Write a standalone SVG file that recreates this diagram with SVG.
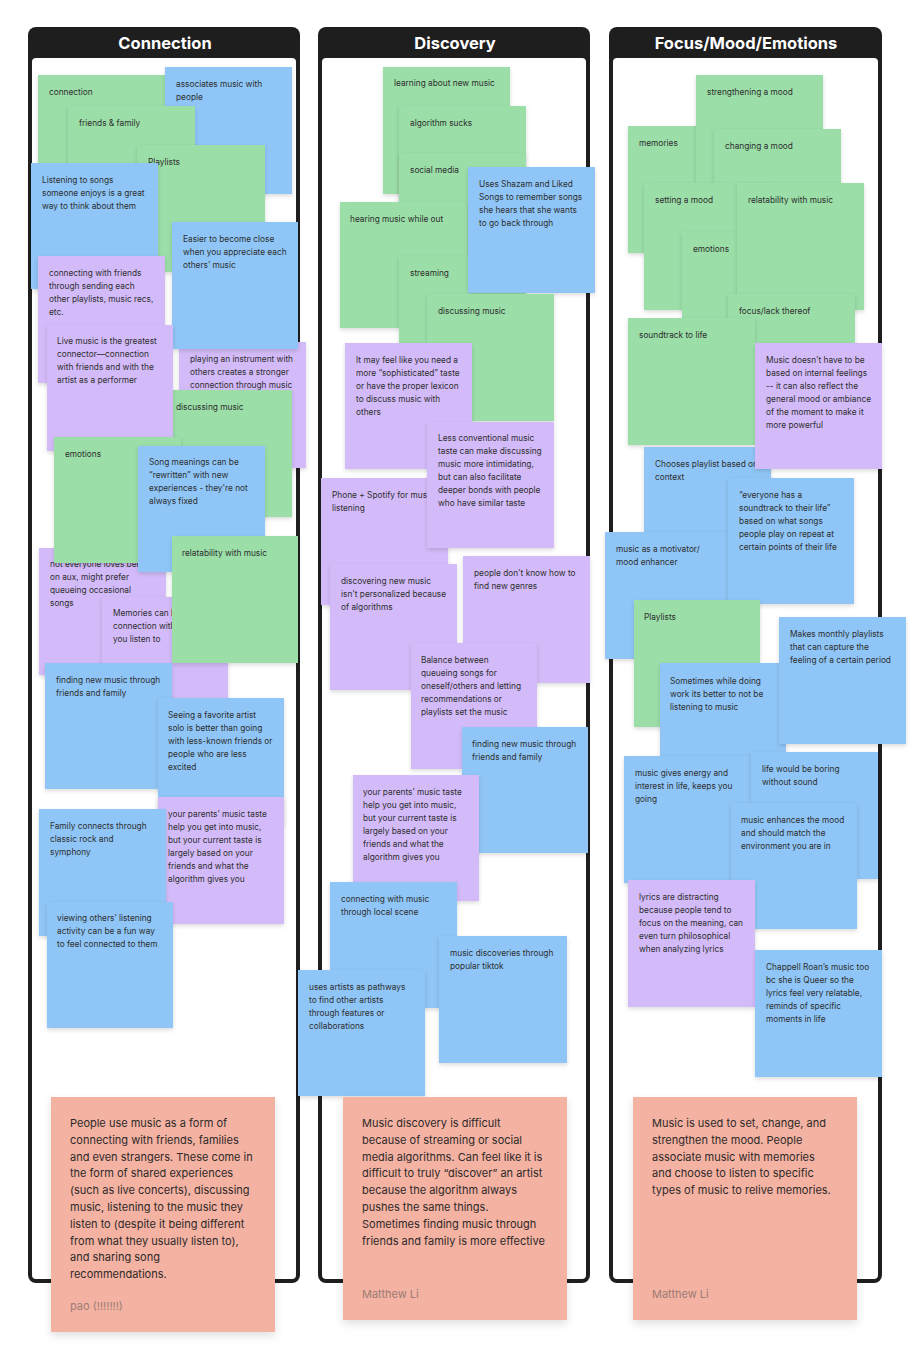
<svg xmlns="http://www.w3.org/2000/svg" width="924" height="1346" viewBox="0 0 924 1346">
<defs>
<filter id="sh" x="-10%" y="-10%" width="130%" height="130%"><feDropShadow dx="0" dy="2" stdDeviation="2" flood-color="#000" flood-opacity="0.14"/></filter>
<filter id="sh2" x="-10%" y="-10%" width="130%" height="130%"><feDropShadow dx="0" dy="4" stdDeviation="4" flood-color="#000" flood-opacity="0.12"/></filter>
</defs>
<style>
.fo{fill:#1e1e1e}
.fi{fill:#ffffff}
.hd{font-family:Inter,'Noto Sans','Liberation Sans',sans-serif;font-weight:700;font-size:16.5px;fill:#ffffff;text-anchor:middle}
.n{filter:url(#sh)}
.g{fill:#9BDEA8}
.b{fill:#8FC6F7}
.p{fill:#D3BBF9}
.s{fill:#F4B2A3;filter:url(#sh2)}
.t{font-family:Inter,'Noto Sans','Liberation Sans',sans-serif;font-size:8.3px;fill:#2e2e2e}
.st{font-family:Inter,'Noto Sans','Liberation Sans',sans-serif;font-size:11px;fill:#2e2a29}
.au{font-family:Inter,'Noto Sans','Liberation Sans',sans-serif;font-size:11px;fill:#9c7c74}
</style>
<rect width="924" height="1346" fill="#ffffff"/>
<g id="frames">
<g id="frame-connection"><rect class="fo" x="28" y="27" width="272" height="1256" rx="8"/><rect class="fi" x="32" y="58" width="264" height="1221" rx="4"/><text class="hd" x="165" y="49">Connection</text></g>
<g id="frame-discovery"><rect class="fo" x="318" y="27" width="272" height="1256" rx="8"/><rect class="fi" x="322" y="58" width="264" height="1221" rx="4"/><text class="hd" x="455" y="49">Discovery</text></g>
<g id="frame-focus"><rect class="fo" x="609" y="27" width="273" height="1256" rx="8"/><rect class="fi" x="613" y="58" width="265" height="1221" rx="4"/><text class="hd" x="746" y="49">Focus/Mood/Emotions</text></g>
</g>
<g id="connectors"/>
<g id="connection-notes">
<g id="c-connection" transform="translate(38,75)"><rect class="n g" width="127" height="127"/><text class="t" x="11" y="20">connection</text></g>
<g id="c-associates" transform="translate(165,67)"><rect class="n b" width="127" height="127"/><text class="t" x="11" y="20"><tspan x="11">associates music with</tspan><tspan x="11" dy="13">people</tspan></text></g>
<g id="c-friends" transform="translate(68,106)"><rect class="n g" width="127" height="127"/><text class="t" x="11" y="20">friends &amp; family</text></g>
<g id="c-playlists" transform="translate(137,145)"><rect class="n g" width="128" height="127"/><text class="t" x="11" y="20">Playlists</text></g>
<g id="c-listening" transform="translate(31,163)"><rect class="n b" width="127" height="126"/><text class="t" x="11" y="20"><tspan x="11">Listening to songs</tspan><tspan x="11" dy="13">someone enjoys is a great</tspan><tspan x="11" dy="13">way to think about them</tspan></text></g>
<g id="c-connecting" transform="translate(38,256)"><rect class="n p" width="127" height="127"/><text class="t" x="11" y="20"><tspan x="11">connecting with friends</tspan><tspan x="11" dy="13">through sending each</tspan><tspan x="11" dy="13">other playlists, music recs,</tspan><tspan x="11" dy="13">etc.</tspan></text></g>
<g id="c-playing" transform="translate(179,342)"><rect class="n p" width="127" height="126"/><text class="t" x="11" y="20"><tspan x="11">playing an instrument with</tspan><tspan x="11" dy="13">others creates a stronger</tspan><tspan x="11" dy="13">connection through music</tspan></text></g>
<g id="c-easier" transform="translate(172,222)"><rect class="n b" width="126" height="127"/><text class="t" x="11" y="20"><tspan x="11">Easier to become close</tspan><tspan x="11" dy="13">when you appreciate each</tspan><tspan x="11" dy="13">others’ music</tspan></text></g>
<g id="c-discussing" transform="translate(165,390)"><rect class="n g" width="127" height="127"/><text class="t" x="11" y="20">discussing music</text></g>
<g id="c-live" transform="translate(47,325)"><rect class="n p" width="126" height="126"/><text class="t" x="10" y="19"><tspan x="10">Live music is the greatest</tspan><tspan x="10" dy="13">connector—connection</tspan><tspan x="10" dy="13">with friends and with the</tspan><tspan x="10" dy="13">artist as a performer</tspan></text></g>
<g id="c-noteveryone" transform="translate(39,548)"><rect class="n p" width="127" height="127"/><text class="t" x="11" y="19"><tspan x="11">not everyone loves being</tspan><tspan x="11" dy="13">on aux, might prefer</tspan><tspan x="11" dy="13">queueing occasional</tspan><tspan x="11" dy="13">songs</tspan></text></g>
<g id="c-emotions" transform="translate(54,437)"><rect class="n g" width="127" height="126"/><text class="t" x="11" y="20">emotions</text></g>
<g id="c-song" transform="translate(138,446)"><rect class="n b" width="127" height="126"/><text class="t" x="11" y="19"><tspan x="11">Song meanings can be</tspan><tspan x="11" dy="13">“rewritten” with new</tspan><tspan x="11" dy="13">experiences - they're not</tspan><tspan x="11" dy="13">always fixed</tspan></text></g>
<g id="c-memories" transform="translate(102,597)"><rect class="n p" width="126" height="127"/><text class="t" x="11" y="19"><tspan x="11">Memories can bring</tspan><tspan x="11" dy="13">connection with who</tspan><tspan x="11" dy="13">you listen to</tspan></text></g>
<g id="c-relatability" transform="translate(172,536)"><rect class="n g" width="126" height="127"/><text class="t" x="10" y="20">relatability with music</text></g>
<g id="c-finding" transform="translate(45,663)"><rect class="n b" width="127" height="126"/><text class="t" x="11" y="20"><tspan x="11">finding new music through</tspan><tspan x="11" dy="13">friends and family</tspan></text></g>
<g id="c-seeing" transform="translate(158,698)"><rect class="n b" width="126" height="127"/><text class="t" x="10" y="20"><tspan x="10">Seeing a favorite artist</tspan><tspan x="10" dy="13">solo is better than going</tspan><tspan x="10" dy="13">with less-known friends or</tspan><tspan x="10" dy="13">people who are less</tspan><tspan x="10" dy="13">excited</tspan></text></g>
<g id="c-parents" transform="translate(158,797)"><rect class="n p" width="126" height="127"/><text class="t" x="10" y="20"><tspan x="10">your parents’ music taste</tspan><tspan x="10" dy="13">help you get into music,</tspan><tspan x="10" dy="13">but your current taste is</tspan><tspan x="10" dy="13">largely based on your</tspan><tspan x="10" dy="13">friends and what the</tspan><tspan x="10" dy="13">algorithm gives you</tspan></text></g>
<g id="c-family" transform="translate(39,809)"><rect class="n b" width="127" height="127"/><text class="t" x="11" y="20"><tspan x="11">Family connects through</tspan><tspan x="11" dy="13">classic rock and</tspan><tspan x="11" dy="13">symphony</tspan></text></g>
<g id="c-viewing" transform="translate(47,902)"><rect class="n b" width="126" height="126"/><text class="t" x="10" y="19"><tspan x="10">viewing others’ listening</tspan><tspan x="10" dy="13">activity can be a fun way</tspan><tspan x="10" dy="13">to feel connected to them</tspan></text></g>
</g>
<g id="discovery-notes">
<g id="d-learning" transform="translate(383,67)"><rect class="n g" width="127" height="127"/><text class="t" x="11" y="19">learning about new music</text></g>
<g id="d-algorithm" transform="translate(399,106)"><rect class="n g" width="127" height="127"/><text class="t" x="11" y="20">algorithm sucks</text></g>
<g id="d-social" transform="translate(399,153)"><rect class="n g" width="127" height="127"/><text class="t" x="11" y="20">social media</text></g>
<g id="d-hearing" transform="translate(340,202)"><rect class="n g" width="127" height="126"/><text class="t" x="10" y="20">hearing music while out</text></g>
<g id="d-streaming" transform="translate(399,256)"><rect class="n g" width="127" height="127"/><text class="t" x="11" y="20">streaming</text></g>
<g id="d-shazam" transform="translate(468,167)"><rect class="n b" width="127" height="126"/><text class="t" x="11" y="20"><tspan x="11">Uses Shazam and Liked</tspan><tspan x="11" dy="13">Songs to remember songs</tspan><tspan x="11" dy="13">she hears that she wants</tspan><tspan x="11" dy="13">to go back through</tspan></text></g>
<g id="d-discussing" transform="translate(427,294)"><rect class="n g" width="127" height="127"/><text class="t" x="11" y="20">discussing music</text></g>
<g id="d-itmay" transform="translate(345,343)"><rect class="n p" width="127" height="126"/><text class="t" x="11" y="20"><tspan x="11">It may feel like you need a</tspan><tspan x="11" dy="13">more “sophisticated” taste</tspan><tspan x="11" dy="13">or have the proper lexicon</tspan><tspan x="11" dy="13">to discuss music with</tspan><tspan x="11" dy="13">others</tspan></text></g>
<g id="d-phone" transform="translate(321,478)"><rect class="n p" width="127" height="127"/><text class="t" x="11" y="20"><tspan x="11">Phone + Spotify for music</tspan><tspan x="11" dy="13">listening</tspan></text></g>
<g id="d-less" transform="translate(427,422)"><rect class="n p" width="127" height="126"/><text class="t" x="11" y="19"><tspan x="11">Less conventional music</tspan><tspan x="11" dy="13">taste can make discussing</tspan><tspan x="11" dy="13">music more intimidating,</tspan><tspan x="11" dy="13">but can also facilitate</tspan><tspan x="11" dy="13">deeper bonds with people</tspan><tspan x="11" dy="13">who have similar taste</tspan></text></g>
<g id="d-discovering" transform="translate(330,564)"><rect class="n p" width="127" height="126"/><text class="t" x="11" y="20"><tspan x="11">discovering new music</tspan><tspan x="11" dy="13">isn't personalized because</tspan><tspan x="11" dy="13">of algorithms</tspan></text></g>
<g id="d-people" transform="translate(463,556)"><rect class="n p" width="127" height="127"/><text class="t" x="11" y="20"><tspan x="11">people don't know how to</tspan><tspan x="11" dy="13">find new genres</tspan></text></g>
<g id="d-balance" transform="translate(411,643)"><rect class="n p" width="126" height="126"/><text class="t" x="10" y="20"><tspan x="10">Balance between</tspan><tspan x="10" dy="13">queueing songs for</tspan><tspan x="10" dy="13">oneself/others and letting</tspan><tspan x="10" dy="13">recommendations or</tspan><tspan x="10" dy="13">playlists set the music</tspan></text></g>
<g id="d-finding" transform="translate(462,727)"><rect class="n b" width="126" height="126"/><text class="t" x="10" y="20"><tspan x="10">finding new music through</tspan><tspan x="10" dy="13">friends and family</tspan></text></g>
<g id="d-parents" transform="translate(353,775)"><rect class="n p" width="126" height="126"/><text class="t" x="10" y="20"><tspan x="10">your parents’ music taste</tspan><tspan x="10" dy="13">help you get into music,</tspan><tspan x="10" dy="13">but your current taste is</tspan><tspan x="10" dy="13">largely based on your</tspan><tspan x="10" dy="13">friends and what the</tspan><tspan x="10" dy="13">algorithm gives you</tspan></text></g>
<g id="d-local" transform="translate(330,882)"><rect class="n b" width="127" height="126"/><text class="t" x="11" y="20"><tspan x="11">connecting with music</tspan><tspan x="11" dy="13">through local scene</tspan></text></g>
<g id="d-tiktok" transform="translate(439,936)"><rect class="n b" width="128" height="127"/><text class="t" x="11" y="20"><tspan x="11">music discoveries through</tspan><tspan x="11" dy="13">popular tiktok</tspan></text></g>
<g id="d-uses" transform="translate(298,970)"><rect class="n b" width="127" height="126"/><text class="t" x="11" y="20"><tspan x="11">uses artists as pathways</tspan><tspan x="11" dy="13">to find other artists</tspan><tspan x="11" dy="13">through features or</tspan><tspan x="11" dy="13">collaborations</tspan></text></g>
</g>
<g id="focus-notes">
<g id="f-memories" transform="translate(628,126)"><rect class="n g" width="127" height="127"/><text class="t" x="11" y="20">memories</text></g>
<g id="f-strengthening" transform="translate(696,75)"><rect class="n g" width="127" height="127"/><text class="t" x="11" y="20">strengthening a mood</text></g>
<g id="f-changing" transform="translate(714,129)"><rect class="n g" width="127" height="127"/><text class="t" x="11" y="20">changing a mood</text></g>
<g id="f-setting" transform="translate(644,183)"><rect class="n g" width="127" height="127"/><text class="t" x="11" y="20">setting a mood</text></g>
<g id="f-emotions" transform="translate(682,232)"><rect class="n g" width="127" height="127"/><text class="t" x="11" y="20">emotions</text></g>
<g id="f-relatability" transform="translate(737,183)"><rect class="n g" width="127" height="127"/><text class="t" x="11" y="20">relatability with music</text></g>
<g id="f-focus" transform="translate(728,294)"><rect class="n g" width="127" height="127"/><text class="t" x="11" y="20">focus/lack thereof</text></g>
<g id="f-soundtrack" transform="translate(628,318)"><rect class="n g" width="127" height="127"/><text class="t" x="11" y="20">soundtrack to life</text></g>
<g id="f-chooses" transform="translate(644,447)"><rect class="n b" width="127" height="127"/><text class="t" x="11" y="20"><tspan x="11">Chooses playlist based on</tspan><tspan x="11" dy="13">context</tspan></text></g>
<g id="f-doesnt" transform="translate(755,343)"><rect class="n p" width="127" height="126"/><text class="t" x="11" y="20"><tspan x="11">Music doesn't have to be</tspan><tspan x="11" dy="13">based on internal feelings</tspan><tspan x="11" dy="13">-- it can also reflect the</tspan><tspan x="11" dy="13">general mood or ambiance</tspan><tspan x="11" dy="13">of the moment to make it</tspan><tspan x="11" dy="13">more powerful</tspan></text></g>
<g id="f-motivator" transform="translate(605,532)"><rect class="n b" width="127" height="127"/><text class="t" x="11" y="20"><tspan x="11">music as a motivator/</tspan><tspan x="11" dy="13">mood enhancer</tspan></text></g>
<g id="f-everyone" transform="translate(728,478)"><rect class="n b" width="126" height="126"/><text class="t" x="11" y="20"><tspan x="11">“everyone has a</tspan><tspan x="11" dy="13">soundtrack to their life”</tspan><tspan x="11" dy="13">based on what songs</tspan><tspan x="11" dy="13">people play on repeat at</tspan><tspan x="11" dy="13">certain points of their life</tspan></text></g>
<g id="f-playlists" transform="translate(634,600)"><rect class="n g" width="126" height="127"/><text class="t" x="10" y="20">Playlists</text></g>
<g id="f-sometimes" transform="translate(660,663)"><rect class="n b" width="126" height="127"/><text class="t" x="10" y="21"><tspan x="10">Sometimes while doing</tspan><tspan x="10" dy="13">work its better to not be</tspan><tspan x="10" dy="13">listening to music</tspan></text></g>
<g id="f-makes" transform="translate(779,617)"><rect class="n b" width="127" height="127"/><text class="t" x="11" y="20"><tspan x="11">Makes monthly playlists</tspan><tspan x="11" dy="13">that can capture the</tspan><tspan x="11" dy="13">feeling of a certain period</tspan></text></g>
<g id="f-energy" transform="translate(624,756)"><rect class="n b" width="127" height="127"/><text class="t" x="11" y="20"><tspan x="11">music gives energy and</tspan><tspan x="11" dy="13">interest in life, keeps you</tspan><tspan x="11" dy="13">going</tspan></text></g>
<g id="f-life" transform="translate(751,752)"><rect class="n b" width="127" height="127"/><text class="t" x="11" y="20"><tspan x="11">life would be boring</tspan><tspan x="11" dy="13">without sound</tspan></text></g>
<g id="f-enhances" transform="translate(731,803)"><rect class="n b" width="126" height="126"/><text class="t" x="10" y="20"><tspan x="10">music enhances the mood</tspan><tspan x="10" dy="13">and should match the</tspan><tspan x="10" dy="13">environment you are in</tspan></text></g>
<g id="f-lyrics" transform="translate(628,880)"><rect class="n p" width="127" height="127"/><text class="t" x="11" y="20"><tspan x="11">lyrics are distracting</tspan><tspan x="11" dy="13">because people tend to</tspan><tspan x="11" dy="13">focus on the meaning, can</tspan><tspan x="11" dy="13">even turn philosophical</tspan><tspan x="11" dy="13">when analyzing lyrics</tspan></text></g>
<g id="f-chappell" transform="translate(755,950)"><rect class="n b" width="127" height="127"/><text class="t" x="11" y="20"><tspan x="11">Chappell Roan’s music too</tspan><tspan x="11" dy="13">bc she is Queer so the</tspan><tspan x="11" dy="13">lyrics feel very relatable,</tspan><tspan x="11" dy="13">reminds of specific</tspan><tspan x="11" dy="13">moments in life</tspan></text></g>
</g>
<g id="summaries">
<g id="s-connection" transform="translate(51,1097)"><rect class="s" width="224" height="235"/><text class="st" x="19" y="30"><tspan x="19">People use music as a form of</tspan><tspan x="19" dy="16.8">connecting with friends, families</tspan><tspan x="19" dy="16.8">and even strangers. These come in</tspan><tspan x="19" dy="16.8">the form of shared experiences</tspan><tspan x="19" dy="16.8">(such as live concerts), discussing</tspan><tspan x="19" dy="16.8">music, listening to the music they</tspan><tspan x="19" dy="16.8">listen to (despite it being different</tspan><tspan x="19" dy="16.8">from what they usually listen to),</tspan><tspan x="19" dy="16.8">and sharing song</tspan><tspan x="19" dy="16.8">recommendations.</tspan></text><text class="au" x="19" y="213">pao (!!!!!!!)</text></g>
<g id="s-discovery" transform="translate(343,1097)"><rect class="s" width="224" height="223"/><text class="st" x="19" y="30"><tspan x="19">Music discovery is difficult</tspan><tspan x="19" dy="16.8">because of streaming or social</tspan><tspan x="19" dy="16.8">media algorithms. Can feel like it is</tspan><tspan x="19" dy="16.8">difficult to truly “discover” an artist</tspan><tspan x="19" dy="16.8">because the algorithm always</tspan><tspan x="19" dy="16.8">pushes the same things.</tspan><tspan x="19" dy="16.8">Sometimes finding music through</tspan><tspan x="19" dy="16.8">friends and family is more effective</tspan></text><text class="au" x="19" y="201">Matthew Li</text></g>
<g id="s-focus" transform="translate(633,1097)"><rect class="s" width="224" height="223"/><text class="st" x="19" y="30"><tspan x="19">Music is used to set, change, and</tspan><tspan x="19" dy="16.8">strengthen the mood. People</tspan><tspan x="19" dy="16.8">associate music with memories</tspan><tspan x="19" dy="16.8">and choose to listen to specific</tspan><tspan x="19" dy="16.8">types of music to relive memories.</tspan></text><text class="au" x="19" y="201">Matthew Li</text></g>
</g>
</svg>
